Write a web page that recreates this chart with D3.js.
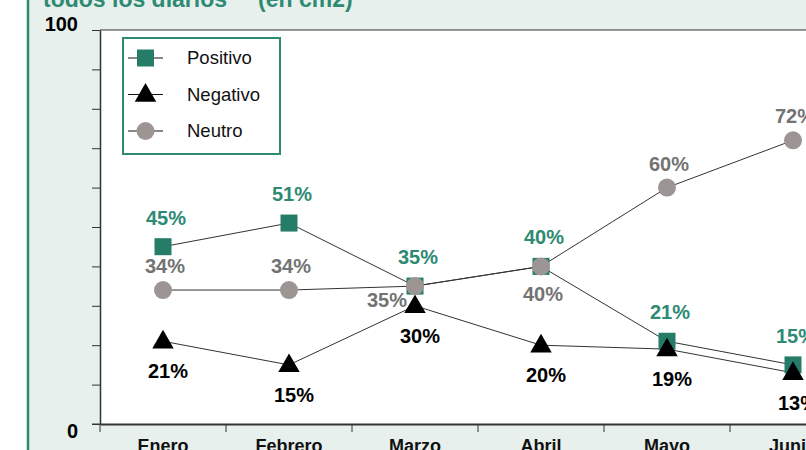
<!DOCTYPE html>
<html>
<head>
<meta charset="utf-8">
<script src="https://cdn.jsdelivr.net/npm/d3@7"></script>
<style>
  body { margin: 0; background: #fff; }
  svg { display: block; font-family: "Liberation Sans", Arial, sans-serif; }
</style>
</head>
<body>
<div id="viz-container"></div>
<script>
// data
let months = ["Enero", "Febrero", "Marzo", "Abril", "Mayo", "Junio"];
let positivo = [45, 51, 35, 40, 21, 15];
let negativo = [21, 15, 30, 20, 19, 13];
let neutro = [34, 34, 35, 40, 60, 72];
let neutroPlace = ["above", "above", "left", "below", "above", "above"];
let yTicks = [0, 10, 20, 30, 40, 50, 60, 70, 80, 90, 100];

let teal = "#257d69";
let tealText = "#2e8a73";
let grayDot = "#9d9593";
let grayText = "#737373";

let viz = d3.select("#viz-container")
  .append("svg")
    .attr("width", 806)
    .attr("height", 450);

// background + frame
viz.append("rect").attr("x", 0).attr("y", 0).attr("width", 806).attr("height", 450).attr("fill", "#fff");
viz.append("rect").attr("x", 28).attr("y", 0).attr("width", 778).attr("height", 450).attr("fill", "#e7f0ed");
viz.append("line").attr("x1", 28).attr("x2", 28).attr("y1", 0).attr("y2", 450)
  .attr("stroke", "#2f8a74").attr("stroke-width", 2.5);

// title (cut at top)
viz.append("text").attr("x", 43).attr("y", 7)
  .attr("font-size", 23).attr("font-weight", "bold").attr("fill", tealText)
  .text("todos los diarios");
viz.append("text").attr("x", 258).attr("y", 7)
  .attr("font-size", 23).attr("font-weight", "bold").attr("fill", tealText)
  .text("(en cm2)");

let x = d3.scaleBand().domain(months).range([100, 856]);
let y = d3.scaleLinear().domain([0, 100]).range([424, 30]);
let cx = d => x(d) + x.bandwidth() / 2;

// plot area
viz.append("rect").attr("x", 100).attr("y", y(100)).attr("width", 706).attr("height", y(0) - y(100))
  .attr("fill", "#fff");
viz.append("line").attr("x1", 100).attr("x2", 806).attr("y1", y(100)).attr("y2", y(100))
  .attr("stroke", "#333").attr("stroke-width", 1.2);

// y axis
let yAxis = viz.append("g")
  .attr("transform", "translate(100,0)")
  .call(d3.axisLeft(y).tickValues(yTicks).tickFormat("").tickSize(8).tickSizeOuter(0));
yAxis.selectAll("line").attr("stroke", "#333");
yAxis.select(".domain").attr("stroke", "#333").attr("stroke-width", 1.5);

viz.append("text").attr("x", 78).attr("y", y(100) + 1)
  .attr("text-anchor", "end").attr("font-size", 20).attr("font-weight", "bold").text("100");
viz.append("text").attr("x", 78).attr("y", y(0) + 14)
  .attr("text-anchor", "end").attr("font-size", 20).attr("font-weight", "bold").text("0");

// x axis
let xAxis = viz.append("g")
  .attr("transform", "translate(0," + y(0) + ")")
  .call(d3.axisBottom(x).tickSize(0).tickSizeOuter(0));
xAxis.select(".domain").attr("stroke", "#333").attr("stroke-width", 2);
xAxis.selectAll("text").attr("font-weight", "bold").attr("fill", "#111")
  .attr("dy", 0).attr("y", 28).attr("font-family", "'Liberation Sans Narrow', 'Liberation Sans', Arial, sans-serif")
  .attr("font-size", 18);
viz.selectAll(".xtick").data(months).enter()
  .append("line")
  .attr("class", "xtick")
  .attr("x1", d => x(d)).attr("x2", d => x(d))
  .attr("y1", y(0)).attr("y2", y(0) + 8)
  .attr("stroke", "#333");
viz.append("line").attr("x1", 92).attr("x2", 100).attr("y1", y(0)).attr("y2", y(0)).attr("stroke", "#333");

let line = d3.line().x((d, i) => cx(months[i])).y(d => y(d));

function drawLine(vals) {
  viz.append("path").datum(vals)
    .attr("d", line)
    .attr("fill", "none")
    .attr("stroke", "#333")
    .attr("stroke-width", 1);
}

drawLine(positivo);
drawLine(negativo);
drawLine(neutro);

let tri = d3.symbol().type(d3.symbolTriangle).size(200);

// markers
viz.selectAll(".pos").data(positivo).enter()
  .append("rect")
  .attr("class", "pos")
  .attr("x", (d, i) => cx(months[i]) - 8.5)
  .attr("y", d => y(d) - 8.5)
  .attr("width", 17).attr("height", 17)
  .attr("fill", teal);

viz.selectAll(".neg").data(negativo).enter()
  .append("path")
  .attr("class", "neg")
  .attr("d", tri)
  .attr("transform", (d, i) => "translate(" + cx(months[i]) + "," + (y(d) + 1) + ")")
  .attr("fill", "#000");

viz.selectAll(".neu").data(neutro).enter()
  .append("circle")
  .attr("class", "neu")
  .attr("cx", (d, i) => cx(months[i]))
  .attr("cy", d => y(d))
  .attr("r", 9)
  .attr("fill", grayDot);

// labels
viz.selectAll(".posLab").data(positivo).enter()
  .append("text")
  .attr("class", "posLab")
  .attr("x", (d, i) => cx(months[i]) + 3)
  .attr("y", d => y(d) - 22)
  .attr("text-anchor", "middle").attr("font-size", 20).attr("font-weight", "bold")
  .attr("fill", tealText)
  .text(d => d + "%");

viz.selectAll(".negLab").data(negativo).enter()
  .append("text")
  .attr("class", "negLab")
  .attr("x", (d, i) => cx(months[i]) + 5)
  .attr("y", d => y(d) + 37)
  .attr("text-anchor", "middle").attr("font-size", 20).attr("font-weight", "bold")
  .attr("fill", "#000")
  .text(d => d + "%");

viz.selectAll(".neuLab").data(neutro).enter()
  .append("text")
  .attr("class", "neuLab")
  .attr("x", (d, i) => cx(months[i]) + (neutroPlace[i] == "left" ? -28 : 2))
  .attr("y", (d, i) => {
    if (neutroPlace[i] == "left") return y(d) + 21;
    if (neutroPlace[i] == "below") return y(d) + 35;
    return y(d) - 17;
  })
  .attr("text-anchor", "middle").attr("font-size", 20).attr("font-weight", "bold")
  .attr("fill", grayText)
  .text(d => d + "%");

// legend
let legend = viz.append("g").attr("transform", "translate(123,38)");
legend.append("rect").attr("width", 157).attr("height", 116)
  .attr("fill", "#fff").attr("stroke", "#2f8a74").attr("stroke-width", 2);
let names = ["Positivo", "Negativo", "Neutro"];
let row = legend.selectAll(".row").data(names).enter()
  .append("g")
  .attr("class", "row")
  .attr("transform", (d, i) => "translate(0," + (20 + i * 36.5) + ")");
row.append("line").attr("x1", 5).attr("x2", 40).attr("y1", 0).attr("y2", 0)
  .attr("stroke", "#111").attr("stroke-width", 1);
row.append("text").attr("x", 64).attr("y", 6).attr("font-size", 18.5).attr("fill", "#111").text(d => d);
row.filter(d => d == "Positivo").append("rect")
  .attr("x", 14).attr("y", -8.5).attr("width", 17).attr("height", 17).attr("fill", teal);
row.filter(d => d == "Negativo").append("path")
  .attr("d", tri).attr("transform", "translate(22.5,1)").attr("fill", "#000");
row.filter(d => d == "Neutro").append("circle")
  .attr("cx", 22.5).attr("cy", 0).attr("r", 9).attr("fill", grayDot);
</script>
</body>
</html>
